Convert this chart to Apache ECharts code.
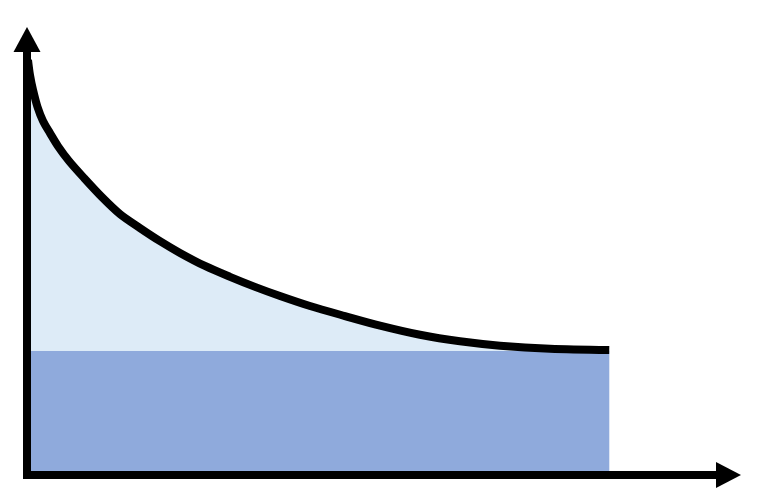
<!DOCTYPE html>
<html>
<head>
<meta charset="utf-8">
<script src="https://cdn.jsdelivr.net/npm/echarts@6/dist/echarts.min.js"></script>
<style>
  html, body { margin: 0; padding: 0; background: #fff; }
  #chart { width: 768px; height: 502px; }
</style>
</head>
<body>
<div id="chart"></div>
<script>
// decaying curve (x and y on a 0..100 scale)
const curveX = [0.14, 0.43, 0.86, 1.50, 2.28, 3.28, 4.42, 5.99, 8.13, 10.69,
                13.26, 16.11, 18.96, 21.81, 25.37, 28.94, 32.50, 36.07, 40.34, 45.33,
                50.32, 56.02, 61.72, 67.43, 74.56, 83.0];
const curveY = [95.3, 91.8, 88.4, 84.5, 81.3, 78.5, 75.5, 72.1, 68.2, 63.8,
                59.9, 56.7, 53.7, 51.0, 48.0, 45.5, 43.2, 41.1, 38.8, 36.5,
                34.3, 32.2, 30.7, 29.7, 29.0, 28.7];

// flat block under the curve
const blockX = [0, 83.0];
const blockY = [28.5, 28.5];

const curve = curveX.map((x, i) => [x, curveY[i]]);
const block = blockX.map((x, i) => [x, blockY[i]]);

const chart = echarts.init(document.getElementById('chart'));

const axisCommon = {
    type: 'value',
    min: 0,
    max: 100,
    z: 10,
    axisTick: { show: false },
    axisLabel: { show: false },
    splitLine: { show: false }
};

chart.setOption({
    animation: false,
    backgroundColor: '#ffffff',
    grid: { left: 27, right: 39.5, top: 39.5, bottom: 27 },
    xAxis: Object.assign({}, axisCommon, {
        axisLine: {
            show: true,
            onZero: false,
            symbol: ['none', 'triangle'],
            symbolSize: [26, 25],
            lineStyle: { color: '#000', width: 8, cap: 'square' }
        }
    }),
    yAxis: Object.assign({}, axisCommon, {
        axisLine: {
            show: true,
            onZero: false,
            symbol: ['none', 'triangle'],
            symbolSize: [27, 25],
            lineStyle: { color: '#000', width: 8, cap: 'square' }
        }
    }),
    series: [
        {
            type: 'line',
            data: curve,
            smooth: 0.3,
            showSymbol: false,
            symbol: 'none',
            lineStyle: { width: 0 },
            areaStyle: { color: '#DDEBF7', opacity: 1 },
            z: 1
        },
        {
            type: 'line',
            data: block,
            showSymbol: false,
            symbol: 'none',
            lineStyle: { width: 0 },
            areaStyle: { color: '#8FAADC', opacity: 1 },
            z: 2
        },
        {
            type: 'line',
            data: curve,
            smooth: 0.3,
            showSymbol: false,
            symbol: 'none',
            clip: false,
            lineStyle: { color: '#000', width: 8, cap: 'butt', join: 'round' },
            z: 3
        }
    ]
});
</script>
</body>
</html>
